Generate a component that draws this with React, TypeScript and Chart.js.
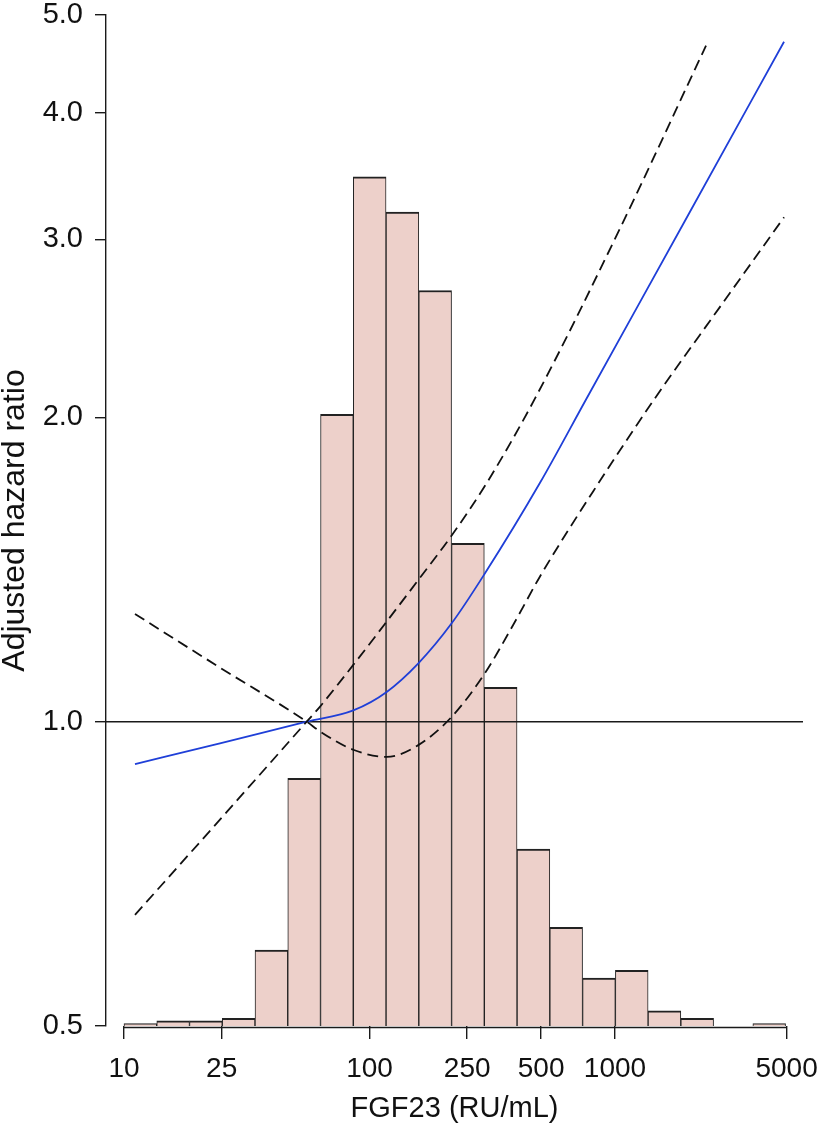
import React, { useEffect, useRef } from 'react';
import { Chart, registerables } from 'chart.js';

Chart.register(...registerables);

// ---- axes ----
const X_TICKS = [10, 25, 100, 250, 500, 1000, 5000];
const Y_TICKS = [0.5, 1, 2, 3, 4, 5];
const X_MIN = 8.45;
const X_MAX = 5830;
const Y_MIN = 0.5;
const Y_MAX = 5;
const REF_HR = 1;

// ---- histogram of FGF23 (bin centres, counts) ----
const BIN_CENTERS = [11.66, 15.86, 21.56, 29.31, 39.85, 54.18, 73.67, 100.2, 136.2, 185.2, 251.8, 342.3, 465.4, 632.8, 860.4, 1170, 1590, 2162, 2940, 4247];
const BIN_COUNTS = [1, 2, 2, 3, 30, 98, 242, 336, 322, 291, 191, 134, 70, 39, 19, 22, 6, 3, 0, 1];
const COUNT_AXIS_MAX = 400;

// ---- adjusted hazard ratio (spline) ----
const HR_X = [11.09, 24.6, 55.5, 85.9, 117.5, 158.1, 216.1, 295.4, 494.9, 767, 1928, 4880];
const HR_Y = [0.908, 0.952, 1.0, 1.026, 1.07, 1.142, 1.251, 1.402, 1.723, 2.089, 3.129, 4.705];

// ---- 95% CI upper ----
const UPPER_X = [11.09, 24.6, 55.5, 62.9, 85.9, 117.5, 158.1, 216.1, 300.2, 472.3, 1048, 2348];
const UPPER_Y = [0.644, 0.8, 1.0, 1.035, 1.138, 1.256, 1.381, 1.528, 1.722, 2.088, 3.075, 4.663];

// ---- 95% CI lower ----
const LOWER_X = [11.09, 24.6, 55.5, 62.9, 85.9, 117.5, 158.1, 216.1, 295.4, 385.2, 494.9, 845, 1455, 2677, 4880];
const LOWER_Y = [1.278, 1.131, 1.0, 0.978, 0.938, 0.923, 0.948, 1.011, 1.117, 1.247, 1.392, 1.713, 2.089, 2.572, 3.154];

const FONT = '"Liberation Sans", Arial, Helvetica, sans-serif';

const toXY = (xs: number[], ys: number[]) => xs.map((x, i) => ({ x, y: ys[i] }));

const xAxisLine = {
  id: 'xAxisLine',
  afterDraw(chart: any) {
    const sx = chart.scales.x;
    const { ctx, chartArea } = chart;
    const x0 = sx.getPixelForValue(X_TICKS[0]);
    const x1 = sx.getPixelForValue(X_TICKS[X_TICKS.length - 1]);
    const y = chartArea.bottom + 1.5;
    ctx.save();
    ctx.strokeStyle = '#1a1a1a';
    ctx.lineWidth = 1.4;
    ctx.beginPath();
    ctx.moveTo(x0, y);
    ctx.lineTo(x1, y);
    ctx.stroke();
    ctx.restore();
  },
};

export default function App() {
  const ref = useRef<HTMLCanvasElement | null>(null);

  useEffect(() => {
    document.body.style.margin = '0';
    const canvas = ref.current;
    if (!canvas) return;
    const chart = new Chart(canvas, {
      type: 'bar',
      data: {
        datasets: [
          {
            type: 'line',
            data: [
              { x: X_MIN, y: REF_HR },
              { x: X_MAX, y: REF_HR },
            ],
            borderColor: '#1a1a1a',
            borderWidth: 1.5,
            pointRadius: 0,
            xAxisID: 'x',
            yAxisID: 'y',
            order: 1,
          },
          {
            type: 'line',
            data: toXY(UPPER_X, UPPER_Y),
            borderColor: '#111111',
            borderWidth: 1.8,
            borderDash: [11, 6],
            pointRadius: 0,
            cubicInterpolationMode: 'monotone',
            xAxisID: 'x',
            yAxisID: 'y',
            order: 0,
          },
          {
            type: 'line',
            data: toXY(LOWER_X, LOWER_Y),
            borderColor: '#111111',
            borderWidth: 1.8,
            borderDash: [11, 6],
            pointRadius: 0,
            cubicInterpolationMode: 'monotone',
            xAxisID: 'x',
            yAxisID: 'y',
            order: 0,
          },
          {
            type: 'line',
            data: toXY(HR_X, HR_Y),
            borderColor: '#1f3fd8',
            borderWidth: 1.8,
            pointRadius: 0,
            cubicInterpolationMode: 'monotone',
            xAxisID: 'x',
            yAxisID: 'y',
            order: 0,
          },
          {
            type: 'bar',
            data: toXY(BIN_CENTERS, BIN_COUNTS),
            backgroundColor: '#EDD0CA',
            borderColor: '#222222',
            borderWidth: { top: 2, left: 1, right: 1, bottom: 0 },
            borderSkipped: false,
            barPercentage: 1,
            categoryPercentage: 1,
            xAxisID: 'x',
            yAxisID: 'yH',
            order: 10,
          },
        ],
      },
      options: {
        responsive: false,
        animation: false,
        devicePixelRatio: 1,
        layout: { padding: { top: 15, right: 18, left: 0, bottom: 0 } },
        plugins: {
          legend: { display: false },
          tooltip: { enabled: false },
        },
        scales: {
          x: {
            type: 'logarithmic',
            position: 'bottom',
            min: X_MIN,
            max: X_MAX,
            bounds: 'data',
            offset: false,
            afterBuildTicks: (scale: any) => {
              scale.ticks = X_TICKS.map((v) => ({ value: v }));
            },
            afterFit: (scale: any) => {
              scale.height = 101;
              scale.paddingLeft = 0;
              scale.paddingRight = 0;
              scale.paddingTop = 0;
              scale.paddingBottom = 0;
            },
            ticks: {
              autoSkip: false,
              maxRotation: 0,
              minRotation: 0,
              padding: 13,
              color: '#111111',
              font: { family: FONT, size: 28 },
              callback: (v: any) => String(v),
            },
            grid: {
              offset: false,
              drawOnChartArea: false,
              drawTicks: true,
              tickLength: 13,
              color: '#1a1a1a',
              lineWidth: 1.4,
            },
            border: { display: false },
            title: {
              display: true,
              text: 'FGF23 (RU/mL)',
              color: '#111111',
              font: { family: FONT, size: 29 },
              padding: { top: 0, bottom: 1 },
            },
          },
          y: {
            type: 'logarithmic',
            position: 'left',
            min: Y_MIN,
            max: Y_MAX,
            bounds: 'data',
            afterBuildTicks: (scale: any) => {
              scale.ticks = Y_TICKS.map((v) => ({ value: v }));
            },
            afterFit: (scale: any) => {
              scale.width = 106;
              scale.paddingLeft = 0;
              scale.paddingRight = 0;
              scale.paddingTop = 0;
              scale.paddingBottom = 0;
            },
            ticks: {
              autoSkip: false,
              padding: 12,
              color: '#111111',
              font: { family: FONT, size: 29 },
              callback: (v: any) => Number(v).toFixed(1),
            },
            grid: {
              drawOnChartArea: false,
              drawTicks: true,
              tickLength: 11,
              color: '#1a1a1a',
              lineWidth: 1.4,
            },
            border: { display: true, color: '#1a1a1a', width: 1.4 },
            title: {
              display: true,
              text: 'Adjusted hazard ratio',
              color: '#111111',
              font: { family: FONT, size: 32 },
              padding: { top: -4, bottom: 0 },
            },
          },
          yH: {
            type: 'linear',
            display: false,
            min: 0,
            max: COUNT_AXIS_MAX,
          },
        },
      } as any,
      plugins: [xAxisLine],
    });
    return () => chart.destroy();
  }, []);

  return (
    <div style={{ width: 821, height: 1127 }}>
      <canvas ref={ref} width={821} height={1127} style={{ display: 'block' }} />
    </div>
  );
}
